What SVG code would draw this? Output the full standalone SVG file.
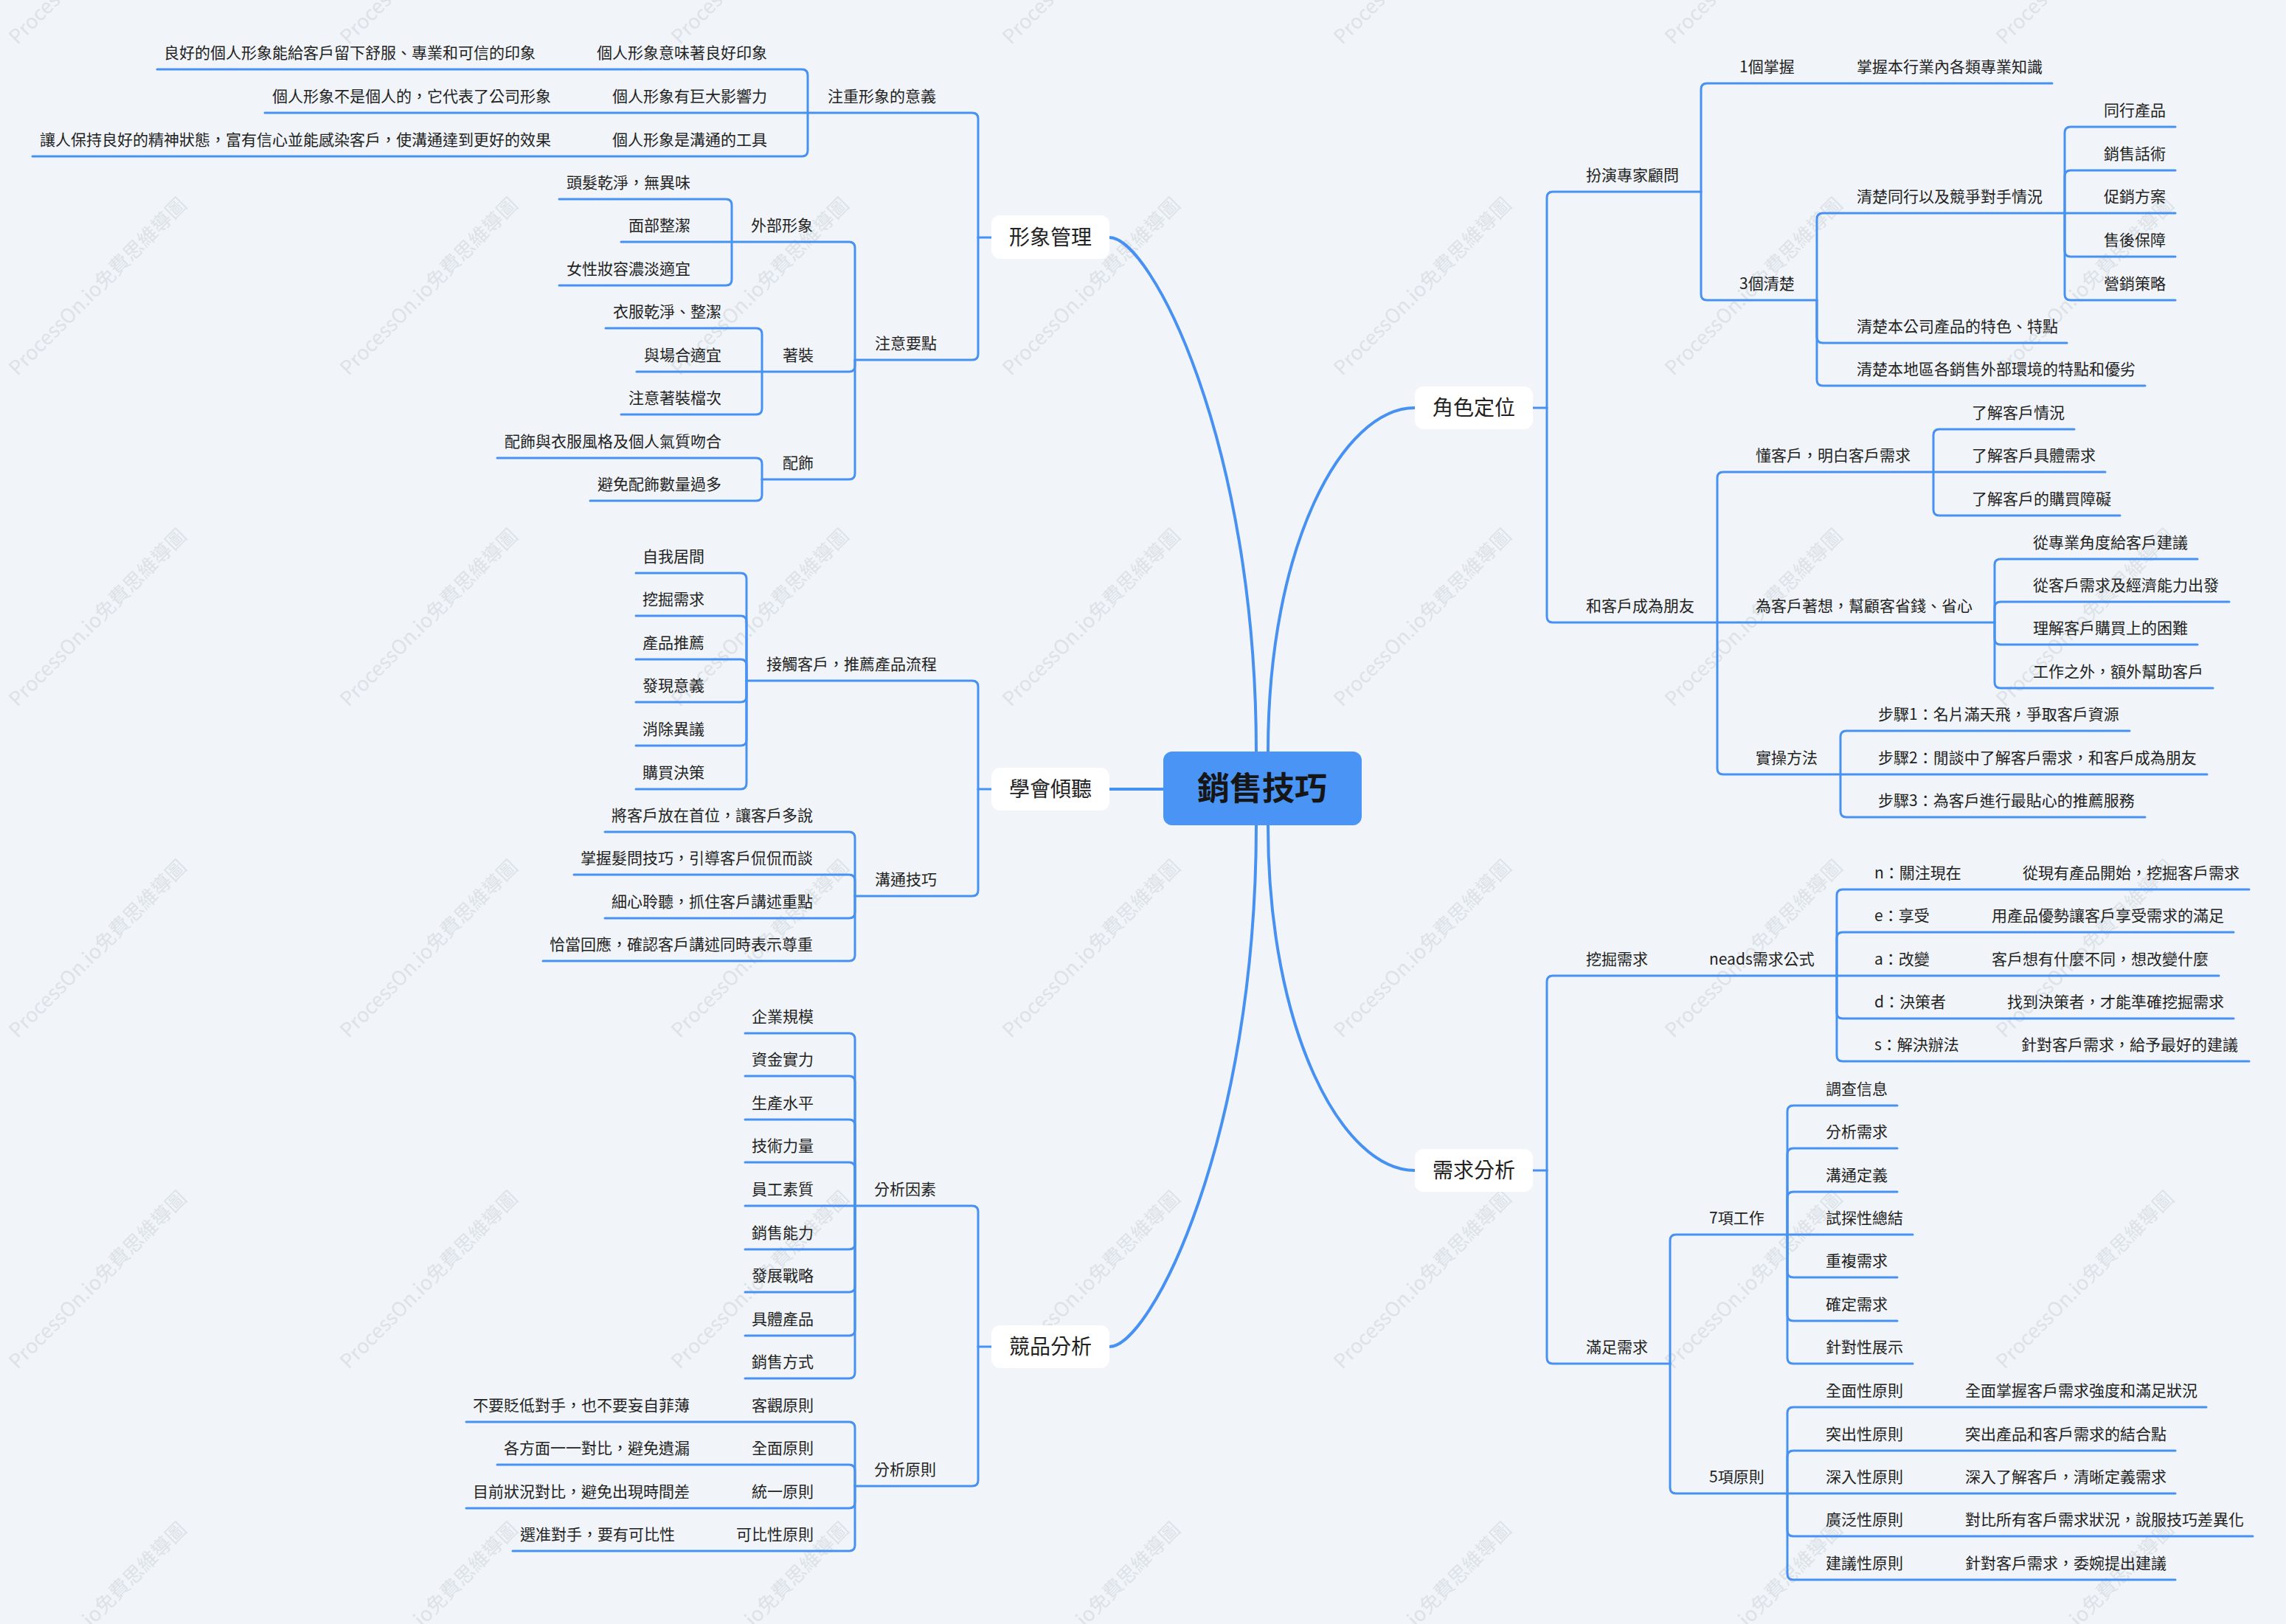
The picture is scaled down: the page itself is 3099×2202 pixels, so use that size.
<svg xmlns="http://www.w3.org/2000/svg" width="3099" height="2202" viewBox="0 0 3099 2202">
<style>
.bg{fill:#f1f5f9}
.ln{fill:none;stroke:#4791f2;stroke-width:3;stroke-linecap:round;stroke-linejoin:round}
.mc{fill:none;stroke:#4791f2;stroke-width:4;stroke-linecap:round}
text{font-family:'Noto Sans CJK TC','Noto Sans CJK SC',sans-serif;fill:#222}
.t{font-size:21px}
.l{text-anchor:end}
.m{font-size:28px;text-anchor:middle}
.box{fill:#ffffff}
.wm{font-size:27px;fill:#8e99a6;opacity:0.2;text-anchor:middle}
.c{font-size:44px;font-weight:bold;text-anchor:middle;fill:#161616}
</style>
<rect class="bg" x="0" y="0" width="3099" height="2202"/>
<g id="watermarks">
<text class="wm" transform="translate(139,-54) rotate(-45)">ProcessOn.io免費思維導圖</text>
<text class="wm" transform="translate(588,-54) rotate(-45)">ProcessOn.io免費思維導圖</text>
<text class="wm" transform="translate(1037,-54) rotate(-45)">ProcessOn.io免費思維導圖</text>
<text class="wm" transform="translate(1486,-54) rotate(-45)">ProcessOn.io免費思維導圖</text>
<text class="wm" transform="translate(1935,-54) rotate(-45)">ProcessOn.io免費思維導圖</text>
<text class="wm" transform="translate(2384,-54) rotate(-45)">ProcessOn.io免費思維導圖</text>
<text class="wm" transform="translate(2833,-54) rotate(-45)">ProcessOn.io免費思維導圖</text>
<text class="wm" transform="translate(139,395) rotate(-45)">ProcessOn.io免費思維導圖</text>
<text class="wm" transform="translate(588,395) rotate(-45)">ProcessOn.io免費思維導圖</text>
<text class="wm" transform="translate(1037,395) rotate(-45)">ProcessOn.io免費思維導圖</text>
<text class="wm" transform="translate(1486,395) rotate(-45)">ProcessOn.io免費思維導圖</text>
<text class="wm" transform="translate(1935,395) rotate(-45)">ProcessOn.io免費思維導圖</text>
<text class="wm" transform="translate(2384,395) rotate(-45)">ProcessOn.io免費思維導圖</text>
<text class="wm" transform="translate(2833,395) rotate(-45)">ProcessOn.io免費思維導圖</text>
<text class="wm" transform="translate(139,844) rotate(-45)">ProcessOn.io免費思維導圖</text>
<text class="wm" transform="translate(588,844) rotate(-45)">ProcessOn.io免費思維導圖</text>
<text class="wm" transform="translate(1037,844) rotate(-45)">ProcessOn.io免費思維導圖</text>
<text class="wm" transform="translate(1486,844) rotate(-45)">ProcessOn.io免費思維導圖</text>
<text class="wm" transform="translate(1935,844) rotate(-45)">ProcessOn.io免費思維導圖</text>
<text class="wm" transform="translate(2384,844) rotate(-45)">ProcessOn.io免費思維導圖</text>
<text class="wm" transform="translate(2833,844) rotate(-45)">ProcessOn.io免費思維導圖</text>
<text class="wm" transform="translate(139,1293) rotate(-45)">ProcessOn.io免費思維導圖</text>
<text class="wm" transform="translate(588,1293) rotate(-45)">ProcessOn.io免費思維導圖</text>
<text class="wm" transform="translate(1037,1293) rotate(-45)">ProcessOn.io免費思維導圖</text>
<text class="wm" transform="translate(1486,1293) rotate(-45)">ProcessOn.io免費思維導圖</text>
<text class="wm" transform="translate(1935,1293) rotate(-45)">ProcessOn.io免費思維導圖</text>
<text class="wm" transform="translate(2384,1293) rotate(-45)">ProcessOn.io免費思維導圖</text>
<text class="wm" transform="translate(2833,1293) rotate(-45)">ProcessOn.io免費思維導圖</text>
<text class="wm" transform="translate(139,1742) rotate(-45)">ProcessOn.io免費思維導圖</text>
<text class="wm" transform="translate(588,1742) rotate(-45)">ProcessOn.io免費思維導圖</text>
<text class="wm" transform="translate(1037,1742) rotate(-45)">ProcessOn.io免費思維導圖</text>
<text class="wm" transform="translate(1486,1742) rotate(-45)">ProcessOn.io免費思維導圖</text>
<text class="wm" transform="translate(1935,1742) rotate(-45)">ProcessOn.io免費思維導圖</text>
<text class="wm" transform="translate(2384,1742) rotate(-45)">ProcessOn.io免費思維導圖</text>
<text class="wm" transform="translate(2833,1742) rotate(-45)">ProcessOn.io免費思維導圖</text>
<text class="wm" transform="translate(139,2191) rotate(-45)">ProcessOn.io免費思維導圖</text>
<text class="wm" transform="translate(588,2191) rotate(-45)">ProcessOn.io免費思維導圖</text>
<text class="wm" transform="translate(1037,2191) rotate(-45)">ProcessOn.io免費思維導圖</text>
<text class="wm" transform="translate(1486,2191) rotate(-45)">ProcessOn.io免費思維導圖</text>
<text class="wm" transform="translate(1935,2191) rotate(-45)">ProcessOn.io免費思維導圖</text>
<text class="wm" transform="translate(2384,2191) rotate(-45)">ProcessOn.io免費思維導圖</text>
<text class="wm" transform="translate(2833,2191) rotate(-45)">ProcessOn.io免費思維導圖</text>
</g>
<g id="connectors">
<path class="mc" d="M1703,1019 C1703,600 1560,322 1504,322"/>
<path class="mc" d="M1577,1070 H1504"/>
<path class="mc" d="M1703,1119 C1703,1543 1560,1826 1504,1826"/>
<path class="mc" d="M1719,1019 C1719,739 1820,553 1918,553"/>
<path class="mc" d="M1719,1119 C1719,1399 1820,1587 1918,1587"/>
<!-- 形象管理 -->
<path class="ln" d="M1326,322 H1344"/>
<path class="ln" d="M1095,153 H1318 Q1326,153 1326,161 V322"/>
<path class="ln" d="M1159,488 H1318 Q1326,488 1326,480 V322"/>
<path class="ln" d="M213,94 H1087 Q1095,94 1095,102 V153"/>
<path class="ln" d="M359,153 H1095"/>
<path class="ln" d="M44,212 H1087 Q1095,212 1095,204 V153"/>
<path class="ln" d="M992,328 H1151 Q1159,328 1159,336 V488"/>
<path class="ln" d="M1033,504 H1151 Q1159,504 1159,496 V488"/>
<path class="ln" d="M1033,650 H1151 Q1159,650 1159,642 V488"/>
<path class="ln" d="M758,270 H984 Q992,270 992,278 V328"/>
<path class="ln" d="M842,328 H992"/>
<path class="ln" d="M758,387 H984 Q992,387 992,379 V328"/>
<path class="ln" d="M821,445 H1025 Q1033,445 1033,453 V504"/>
<path class="ln" d="M863,504 H1033"/>
<path class="ln" d="M842,562 H1025 Q1033,562 1033,554 V504"/>
<path class="ln" d="M674,621 H1025 Q1033,621 1033,629 V650"/>
<path class="ln" d="M800,679 H1025 Q1033,679 1033,671 V650"/>
<!-- 學會傾聽 -->
<path class="ln" d="M1326,1070 H1344"/>
<path class="ln" d="M1012,923 H1318 Q1326,923 1326,931 V1070"/>
<path class="ln" d="M1159,1215 H1318 Q1326,1215 1326,1207 V1070"/>
<path class="ln" d="M862,777 H1004 Q1012,777 1012,785 V923"/>
<path class="ln" d="M862,835 H1004 Q1012,835 1012,843 V923"/>
<path class="ln" d="M862,894 H1004 Q1012,894 1012,902 V923"/>
<path class="ln" d="M862,952 H1004 Q1012,952 1012,944 V923"/>
<path class="ln" d="M862,1011 H1004 Q1012,1011 1012,1003 V923"/>
<path class="ln" d="M862,1070 H1004 Q1012,1070 1012,1062 V923"/>
<path class="ln" d="M820,1128 H1151 Q1159,1128 1159,1136 V1215"/>
<path class="ln" d="M778,1186 H1151 Q1159,1186 1159,1194 V1215"/>
<path class="ln" d="M820,1245 H1151 Q1159,1245 1159,1237 V1215"/>
<path class="ln" d="M736,1303 H1151 Q1159,1303 1159,1295 V1215"/>
<!-- 競品分析 -->
<path class="ln" d="M1326,1826 H1344"/>
<path class="ln" d="M1159,1635 H1318 Q1326,1635 1326,1643 V1826"/>
<path class="ln" d="M1159,2015 H1318 Q1326,2015 1326,2007 V1826"/>
<path class="ln" d="M1010,1401 H1151 Q1159,1401 1159,1409 V1635"/>
<path class="ln" d="M1010,1459 H1151 Q1159,1459 1159,1467 V1635"/>
<path class="ln" d="M1010,1518 H1151 Q1159,1518 1159,1526 V1635"/>
<path class="ln" d="M1010,1576 H1151 Q1159,1576 1159,1584 V1635"/>
<path class="ln" d="M1010,1635 H1159"/>
<path class="ln" d="M1010,1694 H1151 Q1159,1694 1159,1686 V1635"/>
<path class="ln" d="M1010,1752 H1151 Q1159,1752 1159,1744 V1635"/>
<path class="ln" d="M1010,1811 H1151 Q1159,1811 1159,1803 V1635"/>
<path class="ln" d="M1010,1869 H1151 Q1159,1869 1159,1861 V1635"/>
<path class="ln" d="M632,1928 H1151 Q1159,1928 1159,1936 V2015"/>
<path class="ln" d="M674,1986 H1151 Q1159,1986 1159,1994 V2015"/>
<path class="ln" d="M632,2045 H1151 Q1159,2045 1159,2037 V2015"/>
<path class="ln" d="M695,2103 H1151 Q1159,2103 1159,2095 V2015"/>
<!-- 角色定位 -->
<path class="ln" d="M2078,553 H2097"/>
<path class="ln" d="M2306,260 H2105 Q2097,260 2097,268 V553"/>
<path class="ln" d="M2328,844 H2105 Q2097,844 2097,836 V553"/>
<path class="ln" d="M2782,113 H2314 Q2306,113 2306,121 V260"/>
<path class="ln" d="M2463,407 H2314 Q2306,407 2306,399 V260"/>
<path class="ln" d="M2799,289 H2471 Q2463,289 2463,297 V407"/>
<path class="ln" d="M2802,465 H2471 Q2463,465 2463,457 V407"/>
<path class="ln" d="M2908,523 H2471 Q2463,523 2463,515 V407"/>
<path class="ln" d="M2949,172 H2807 Q2799,172 2799,180 V289"/>
<path class="ln" d="M2949,231 H2807 Q2799,231 2799,239 V289"/>
<path class="ln" d="M2949,289 H2799"/>
<path class="ln" d="M2949,348 H2807 Q2799,348 2799,340 V289"/>
<path class="ln" d="M2949,407 H2807 Q2799,407 2799,399 V289"/>
<path class="ln" d="M2621,640 H2336 Q2328,640 2328,648 V844"/>
<path class="ln" d="M2704,844 H2328"/>
<path class="ln" d="M2495,1050 H2336 Q2328,1050 2328,1042 V844"/>
<path class="ln" d="M2812,582 H2629 Q2621,582 2621,590 V640"/>
<path class="ln" d="M2854,640 H2621"/>
<path class="ln" d="M2874,699 H2629 Q2621,699 2621,691 V640"/>
<path class="ln" d="M2979,758 H2712 Q2704,758 2704,766 V844"/>
<path class="ln" d="M3022,816 H2712 Q2704,816 2704,824 V844"/>
<path class="ln" d="M2979,874 H2712 Q2704,874 2704,866 V844"/>
<path class="ln" d="M3000,933 H2712 Q2704,933 2704,925 V844"/>
<path class="ln" d="M2887,991 H2503 Q2495,991 2495,999 V1050"/>
<path class="ln" d="M2992,1050 H2495"/>
<path class="ln" d="M2908,1108 H2503 Q2495,1108 2495,1100 V1050"/>
<!-- 需求分析 -->
<path class="ln" d="M2078,1587 H2097"/>
<path class="ln" d="M2490,1323 H2105 Q2097,1323 2097,1331 V1587"/>
<path class="ln" d="M2264,1849 H2105 Q2097,1849 2097,1841 V1587"/>
<path class="ln" d="M3049,1206 H2498 Q2490,1206 2490,1214 V1323"/>
<path class="ln" d="M3028,1264 H2498 Q2490,1264 2490,1272 V1323"/>
<path class="ln" d="M3008,1323 H2490"/>
<path class="ln" d="M3028,1381 H2498 Q2490,1381 2490,1373 V1323"/>
<path class="ln" d="M3049,1439 H2498 Q2490,1439 2490,1431 V1323"/>
<path class="ln" d="M2423,1674 H2272 Q2264,1674 2264,1682 V1849"/>
<path class="ln" d="M2423,2025 H2272 Q2264,2025 2264,2017 V1849"/>
<path class="ln" d="M2572,1499 H2431 Q2423,1499 2423,1507 V1674"/>
<path class="ln" d="M2572,1557 H2431 Q2423,1557 2423,1565 V1674"/>
<path class="ln" d="M2572,1616 H2431 Q2423,1616 2423,1624 V1674"/>
<path class="ln" d="M2593,1674 H2423"/>
<path class="ln" d="M2572,1732 H2431 Q2423,1732 2423,1724 V1674"/>
<path class="ln" d="M2572,1791 H2431 Q2423,1791 2423,1783 V1674"/>
<path class="ln" d="M2593,1849 H2431 Q2423,1849 2423,1841 V1674"/>
<path class="ln" d="M2991,1908 H2431 Q2423,1908 2423,1916 V2025"/>
<path class="ln" d="M2949,1967 H2431 Q2423,1967 2423,1975 V2025"/>
<path class="ln" d="M2949,2025 H2423"/>
<path class="ln" d="M3054,2083 H2431 Q2423,2083 2423,2075 V2025"/>
<path class="ln" d="M2949,2142 H2431 Q2423,2142 2423,2134 V2025"/>
</g>
<g id="root"><rect x="1577" y="1019" width="269" height="100" rx="12" fill="#4a94f5"/><text class="c" x="1711" y="1085">銷售技巧</text></g>
<g id="b-xingxiang"><rect class="box" x="1344" y="292" width="160" height="59" rx="12"/><text class="m" x="1424" y="332">形象管理</text></g>
<g id="b-qingting"><rect class="box" x="1344" y="1041" width="160" height="58" rx="12"/><text class="m" x="1424" y="1080">學會傾聽</text></g>
<g id="b-jingpin"><rect class="box" x="1344" y="1797" width="160" height="58" rx="12"/><text class="m" x="1424" y="1836">競品分析</text></g>
<g id="b-juese"><rect class="box" x="1918" y="524" width="160" height="58" rx="12"/><text class="m" x="1998" y="563">角色定位</text></g>
<g id="b-xuqiu"><rect class="box" x="1918" y="1558" width="160" height="58" rx="12"/><text class="m" x="1998" y="1597">需求分析</text></g>
<g id="n-yiyi"><text class="t l" x="1269" y="138">注重形象的意義</text></g>
<g id="n-yy1"><text class="t l" x="1040" y="79">個人形象意味著良好印象</text></g>
<g id="n-yy1a"><text class="t l" x="726" y="79">良好的個人形象能給客戶留下舒服、專業和可信的印象</text></g>
<g id="n-yy2"><text class="t l" x="1040" y="138">個人形象有巨大影響力</text></g>
<g id="n-yy2a"><text class="t l" x="747" y="138">個人形象不是個人的，它代表了公司形象</text></g>
<g id="n-yy3"><text class="t l" x="1040" y="197">個人形象是溝通的工具</text></g>
<g id="n-yy3a"><text class="t l" x="747" y="197">讓人保持良好的精神狀態，富有信心並能感染客戶，使溝通達到更好的效果</text></g>
<g id="n-yaodian"><text class="t l" x="1270" y="473">注意要點</text></g>
<g id="n-waibu"><text class="t l" x="1102" y="313">外部形象</text></g>
<g id="n-wb1"><text class="t l" x="936" y="255">頭髮乾淨，無異味</text></g>
<g id="n-wb2"><text class="t l" x="936" y="313">面部整潔</text></g>
<g id="n-wb3"><text class="t l" x="936" y="372">女性妝容濃淡適宜</text></g>
<g id="n-zhuozhuang"><text class="t l" x="1103" y="489">著裝</text></g>
<g id="n-zz1"><text class="t l" x="978" y="430">衣服乾淨、整潔</text></g>
<g id="n-zz2"><text class="t l" x="978" y="489">與場合適宜</text></g>
<g id="n-zz3"><text class="t l" x="978" y="547">注意著裝檔次</text></g>
<g id="n-peishi"><text class="t l" x="1103" y="635">配飾</text></g>
<g id="n-ps1"><text class="t l" x="978" y="606">配飾與衣服風格及個人氣質吻合</text></g>
<g id="n-ps2"><text class="t l" x="978" y="664">避免配飾數量過多</text></g>
<g id="n-jiechu"><text class="t l" x="1270" y="908">接觸客戶，推薦產品流程</text></g>
<g id="n-jc1"><text class="t l" x="955" y="762">自我居間</text></g>
<g id="n-jc2"><text class="t l" x="955" y="820">挖掘需求</text></g>
<g id="n-jc3"><text class="t l" x="955" y="879">產品推薦</text></g>
<g id="n-jc4"><text class="t l" x="955" y="937">發現意義</text></g>
<g id="n-jc5"><text class="t l" x="955" y="996">消除異議</text></g>
<g id="n-jc6"><text class="t l" x="955" y="1055">購買決策</text></g>
<g id="n-goutong"><text class="t l" x="1270" y="1200">溝通技巧</text></g>
<g id="n-gt1"><text class="t l" x="1102" y="1113">將客戶放在首位，讓客戶多說</text></g>
<g id="n-gt2"><text class="t l" x="1102" y="1171">掌握髮問技巧，引導客戶侃侃而談</text></g>
<g id="n-gt3"><text class="t l" x="1102" y="1230">細心聆聽，抓住客戶講述重點</text></g>
<g id="n-gt4"><text class="t l" x="1102" y="1288">恰當回應，確認客戶講述同時表示尊重</text></g>
<g id="n-yinsu"><text class="t l" x="1269" y="1620">分析因素</text></g>
<g id="n-ys1"><text class="t l" x="1103" y="1386">企業規模</text></g>
<g id="n-ys2"><text class="t l" x="1103" y="1444">資金實力</text></g>
<g id="n-ys3"><text class="t l" x="1103" y="1503">生產水平</text></g>
<g id="n-ys4"><text class="t l" x="1103" y="1561">技術力量</text></g>
<g id="n-ys5"><text class="t l" x="1103" y="1620">員工素質</text></g>
<g id="n-ys6"><text class="t l" x="1103" y="1679">銷售能力</text></g>
<g id="n-ys7"><text class="t l" x="1103" y="1737">發展戰略</text></g>
<g id="n-ys8"><text class="t l" x="1103" y="1796">具體產品</text></g>
<g id="n-ys9"><text class="t l" x="1103" y="1854">銷售方式</text></g>
<g id="n-yuanze"><text class="t l" x="1269" y="2000">分析原則</text></g>
<g id="n-yz1"><text class="t l" x="1103" y="1913">客觀原則</text></g>
<g id="n-yz1a"><text class="t l" x="935" y="1913">不要貶低對手，也不要妄自菲薄</text></g>
<g id="n-yz2"><text class="t l" x="1103" y="1971">全面原則</text></g>
<g id="n-yz2a"><text class="t l" x="935" y="1971">各方面一一對比，避免遺漏</text></g>
<g id="n-yz3"><text class="t l" x="1103" y="2030">統一原則</text></g>
<g id="n-yz3a"><text class="t l" x="935" y="2030">目前狀況對比，避免出現時間差</text></g>
<g id="n-yz4"><text class="t l" x="1103" y="2088">可比性原則</text></g>
<g id="n-yz4a"><text class="t l" x="915" y="2088">選准對手，要有可比性</text></g>
<g id="n-guwen"><text class="t" x="2150" y="245">扮演專家顧問</text></g>
<g id="n-zhangwo"><text class="t" x="2358" y="98">1個掌握</text></g>
<g id="n-zhangwo-a"><text class="t" x="2517" y="98">掌握本行業內各類專業知識</text></g>
<g id="n-qingchu"><text class="t" x="2358" y="392">3個清楚</text></g>
<g id="n-qc1"><text class="t" x="2517" y="274">清楚同行以及競爭對手情況</text></g>
<g id="n-qc1a"><text class="t" x="2852" y="157">同行產品</text></g>
<g id="n-qc1b"><text class="t" x="2852" y="216">銷售話術</text></g>
<g id="n-qc1c"><text class="t" x="2852" y="274">促銷方案</text></g>
<g id="n-qc1d"><text class="t" x="2852" y="333">售後保障</text></g>
<g id="n-qc1e"><text class="t" x="2852" y="392">營銷策略</text></g>
<g id="n-qc2"><text class="t" x="2517" y="450">清楚本公司產品的特色、特點</text></g>
<g id="n-qc3"><text class="t" x="2517" y="508">清楚本地區各銷售外部環境的特點和優劣</text></g>
<g id="n-pengyou"><text class="t" x="2150" y="829">和客戶成為朋友</text></g>
<g id="n-dong"><text class="t" x="2380" y="625">懂客戶，明白客戶需求</text></g>
<g id="n-d1"><text class="t" x="2673" y="567">了解客戶情況</text></g>
<g id="n-d2"><text class="t" x="2673" y="625">了解客戶具體需求</text></g>
<g id="n-d3"><text class="t" x="2673" y="684">了解客戶的購買障礙</text></g>
<g id="n-zhuoxiang"><text class="t" x="2380" y="829">為客戶著想，幫顧客省錢、省心</text></g>
<g id="n-zx1"><text class="t" x="2756" y="743">從專業角度給客戶建議</text></g>
<g id="n-zx2"><text class="t" x="2756" y="801">從客戶需求及經濟能力出發</text></g>
<g id="n-zx3"><text class="t" x="2756" y="859">理解客戶購買上的困難</text></g>
<g id="n-zx4"><text class="t" x="2756" y="918">工作之外，額外幫助客戶</text></g>
<g id="n-shicao"><text class="t" x="2380" y="1035">實操方法</text></g>
<g id="n-sc1"><text class="t" x="2546" y="976">步驟1：名片滿天飛，爭取客戶資源</text></g>
<g id="n-sc2"><text class="t" x="2546" y="1035">步驟2：閒談中了解客戶需求，和客戶成為朋友</text></g>
<g id="n-sc3"><text class="t" x="2546" y="1093">步驟3：為客戶進行最貼心的推薦服務</text></g>
<g id="n-wajue"><text class="t" x="2150" y="1308">挖掘需求</text></g>
<g id="n-neads"><text class="t" x="2317" y="1308">neads需求公式</text></g>
<g id="n-nd1"><text class="t" x="2541" y="1191">n：關注現在</text></g>
<g id="n-nd1a"><text class="t" x="2742" y="1191">從現有產品開始，挖掘客戶需求</text></g>
<g id="n-nd2"><text class="t" x="2541" y="1249">e：享受</text></g>
<g id="n-nd2a"><text class="t" x="2700" y="1249">用產品優勢讓客戶享受需求的滿足</text></g>
<g id="n-nd3"><text class="t" x="2541" y="1308">a：改變</text></g>
<g id="n-nd3a"><text class="t" x="2700" y="1308">客戶想有什麼不同，想改變什麼</text></g>
<g id="n-nd4"><text class="t" x="2541" y="1366">d：決策者</text></g>
<g id="n-nd4a"><text class="t" x="2721" y="1366">找到決策者，才能準確挖掘需求</text></g>
<g id="n-nd5"><text class="t" x="2541" y="1424">s：解決辦法</text></g>
<g id="n-nd5a"><text class="t" x="2740" y="1424">針對客戶需求，給予最好的建議</text></g>
<g id="n-manzu"><text class="t" x="2150" y="1834">滿足需求</text></g>
<g id="n-gongzuo"><text class="t" x="2317" y="1659">7項工作</text></g>
<g id="n-gz1"><text class="t" x="2475" y="1484">調查信息</text></g>
<g id="n-gz2"><text class="t" x="2475" y="1542">分析需求</text></g>
<g id="n-gz3"><text class="t" x="2475" y="1601">溝通定義</text></g>
<g id="n-gz4"><text class="t" x="2475" y="1659">試探性總結</text></g>
<g id="n-gz5"><text class="t" x="2475" y="1717">重複需求</text></g>
<g id="n-gz6"><text class="t" x="2475" y="1776">確定需求</text></g>
<g id="n-gz7"><text class="t" x="2475" y="1834">針對性展示</text></g>
<g id="n-yuanze5"><text class="t" x="2317" y="2010">5項原則</text></g>
<g id="n-y1"><text class="t" x="2475" y="1893">全面性原則</text></g>
<g id="n-y1a"><text class="t" x="2664" y="1893">全面掌握客戶需求強度和滿足狀況</text></g>
<g id="n-y2"><text class="t" x="2475" y="1952">突出性原則</text></g>
<g id="n-y2a"><text class="t" x="2664" y="1952">突出產品和客戶需求的結合點</text></g>
<g id="n-y3"><text class="t" x="2475" y="2010">深入性原則</text></g>
<g id="n-y3a"><text class="t" x="2664" y="2010">深入了解客戶，清晰定義需求</text></g>
<g id="n-y4"><text class="t" x="2475" y="2068">廣泛性原則</text></g>
<g id="n-y4a"><text class="t" x="2664" y="2068">對比所有客戶需求狀況，說服技巧差異化</text></g>
<g id="n-y5"><text class="t" x="2475" y="2127">建議性原則</text></g>
<g id="n-y5a"><text class="t" x="2664" y="2127">針對客戶需求，委婉提出建議</text></g>
</svg>
